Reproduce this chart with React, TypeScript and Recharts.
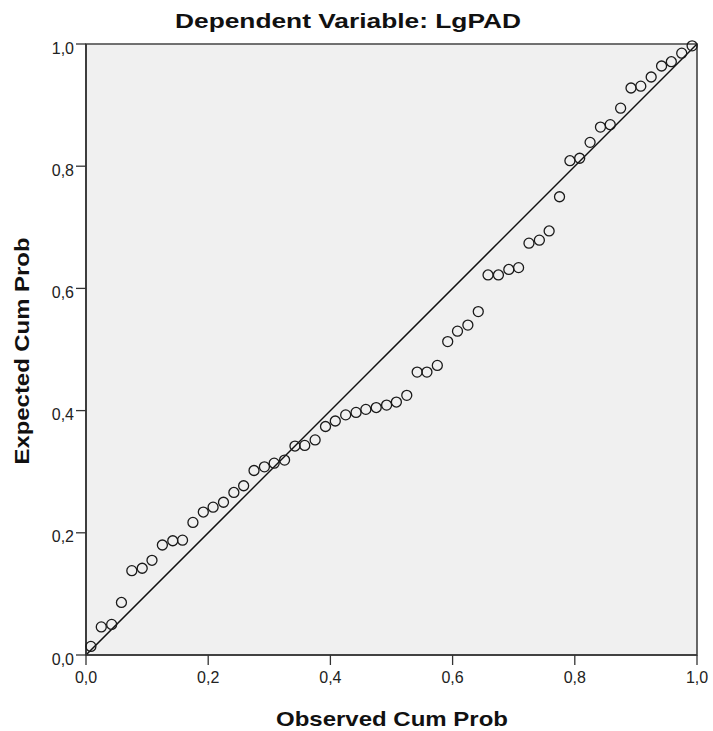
import React from "react";
import { ScatterChart, Scatter, XAxis, YAxis, ReferenceArea, ReferenceLine } from "recharts";

// P-P plot of regression standardized residual
const observedCumProb = [
  0.008, 0.025, 0.042, 0.058, 0.075, 0.092, 0.108, 0.125, 0.142, 0.158,
  0.175, 0.192, 0.208, 0.225, 0.242, 0.258, 0.275, 0.292, 0.308, 0.325,
  0.342, 0.358, 0.375, 0.392, 0.408, 0.425, 0.442, 0.458, 0.475, 0.492,
  0.508, 0.525, 0.542, 0.558, 0.575, 0.592, 0.608, 0.625, 0.642, 0.658,
  0.675, 0.692, 0.708, 0.725, 0.742, 0.758, 0.775, 0.792, 0.808, 0.825,
  0.842, 0.858, 0.875, 0.892, 0.908, 0.925, 0.942, 0.958, 0.975, 0.992,
];

const expectedCumProb = [
  0.014, 0.046, 0.05, 0.086, 0.138, 0.142, 0.155, 0.18, 0.187, 0.188,
  0.217, 0.234, 0.242, 0.25, 0.266, 0.277, 0.302, 0.308, 0.314, 0.319,
  0.342, 0.343, 0.352, 0.374, 0.383, 0.393, 0.397, 0.402, 0.405, 0.409,
  0.414, 0.425, 0.463, 0.463, 0.474, 0.513, 0.53, 0.54, 0.562, 0.622,
  0.622, 0.631, 0.634, 0.674, 0.679, 0.694, 0.75, 0.809, 0.813, 0.839,
  0.864, 0.868, 0.895, 0.928, 0.931, 0.946, 0.964, 0.971, 0.985, 0.997,
];

const axisTicks = [0, 0.2, 0.4, 0.6, 0.8, 1];

const points = observedCumProb.map((x, i) => ({ x, y: expectedCumProb[i] }));

const FONT = "'Liberation Sans', Arial, sans-serif";
const fmt = (v: number) => v.toFixed(1).replace(".", ",");

const Ring = (props: any) => {
  const { cx, cy } = props;
  if (cx == null || cy == null) return null;
  return <circle cx={cx} cy={cy} r={5} fill="none" stroke="#1a1a1a" strokeWidth={1.3} />;
};

// y tick labels sit a little below their tick mark in the original
const YTick = (props: any) => {
  const { x, y, payload } = props;
  return (
    <text x={x} y={y + 4} dy="0.355em" textAnchor="end" fill="#222" fontSize={16} fontFamily={FONT}>
      {fmt(payload.value)}
    </text>
  );
};

export default function App() {
  return (
    <div style={{ position: "absolute", left: 0, top: 0, width: 713, height: 731, background: "#fff" }}>
      <ScatterChart width={713} height={731} margin={{ top: 44, right: 16, bottom: 0, left: 0 }}>
        <ReferenceArea x1={0} x2={1} y1={0} y2={1} fill="#f0f0f0" fillOpacity={1} stroke="#444" strokeWidth={1.6} />
        <XAxis
          type="number"
          dataKey="x"
          domain={[0, 1]}
          ticks={axisTicks}
          tickFormatter={fmt}
          height={76}
          tick={{ fill: "#222", fontSize: 16, fontFamily: FONT }}
          tickSize={10}
          tickMargin={7}
          axisLine={{ stroke: "#333", strokeWidth: 1.6 }}
          tickLine={{ stroke: "#333", strokeWidth: 1.3 }}
        />
        <YAxis
          type="number"
          dataKey="y"
          domain={[0, 1]}
          ticks={axisTicks}
          width={86}
          tick={<YTick />}
          tickSize={10}
          tickMargin={2}
          axisLine={{ stroke: "#333", strokeWidth: 1.6 }}
          tickLine={{ stroke: "#333", strokeWidth: 1.3 }}
        />
        <ReferenceLine
          segment={[{ x: 0, y: 0 }, { x: 1, y: 1 }]}
          stroke="#111"
          strokeWidth={1.5}
        />
        <Scatter data={points} shape={Ring} isAnimationActive={false} />
      </ScatterChart>
      <svg width={713} height={731} style={{ position: "absolute", left: 0, top: 0, pointerEvents: "none" }}>
        <text x={348} y={28} textAnchor="middle" fontFamily={FONT} fontWeight="bold" fontSize={21}
          textLength={346} lengthAdjust="spacingAndGlyphs" fill="#111">
          Dependent Variable: LgPAD
        </text>
        <text x={392} y={726} textAnchor="middle" fontFamily={FONT} fontWeight="bold" fontSize={21}
          textLength={232} lengthAdjust="spacingAndGlyphs" fill="#111">
          Observed Cum Prob
        </text>
        <text x={0} y={0} transform="translate(29,351) rotate(-90)" textAnchor="middle" fontFamily={FONT}
          fontWeight="bold" fontSize={21} textLength={227} lengthAdjust="spacingAndGlyphs" fill="#111">
          Expected Cum Prob
        </text>
      </svg>
    </div>
  );
}
